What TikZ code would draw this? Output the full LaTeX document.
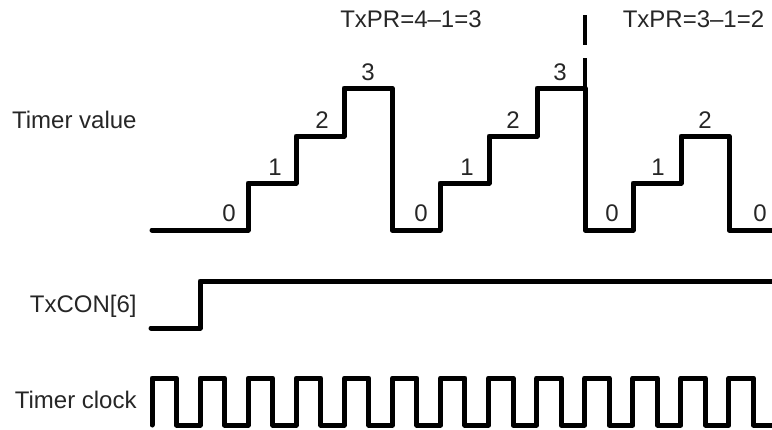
\documentclass[tikz,border=0pt]{standalone}
\usepackage{fontspec}
\setmainfont{Liberation Sans}
\begin{document}
\begin{tikzpicture}[x=0.5pt,y=-0.5pt,
  wave/.style={line width=2.5pt,line join=round,line cap=round},
  divider/.style={line width=2pt,dash pattern=on 15pt off 6.5pt},
  lbl/.style={font=\fontsize{12}{14}\selectfont,inner sep=0pt,text=black!85},
  num/.style={font=\fontsize{12}{14}\selectfont,inner sep=0pt,text=black!85}]
\useasboundingbox (0,0) rectangle (772,429);
% left labels
\node[lbl,anchor=base east] (tv) at (137,128) {Timer value};
\node[lbl,anchor=base east] (tc) at (137,312) {TxCON[6]};
\node[lbl,anchor=base east] (clk) at (137,408) {Timer clock};
% titles
\node[lbl] (pr1) at (411,19.5) {TxPR=4–1=3};
\node[lbl] (pr2) at (693.5,19.5) {TxPR=3–1=2};
% divider
\coordinate (dtop) at (585,15);
\coordinate (dbot) at (585,88);
\draw[divider] (dtop) -- (dbot);
% timer value waveform
\draw[wave] (152,230) -- (248,230) -- (248,183) -- (296,183) -- (296,136)
  -- (344,136) -- (344,88) -- (392,88) -- (392,230) -- (440,230) -- (440,183)
  -- (489,183) -- (489,136) -- (537,136) -- (537,88) -- (585,88) -- (585,230)
  -- (633,230) -- (633,183) -- (681,183) -- (681,136) -- (729,136) -- (729,230)
  -- (775,230);
% counter values
\node[num] (v0a) at (229,213) {0};
\node[num] (v1a) at (275,167) {1};
\node[num] (v2a) at (322,120) {2};
\node[num] (v3a) at (368,72) {3};
\node[num] (v0b) at (421,213) {0};
\node[num] (v1b) at (467,167) {1};
\node[num] (v2b) at (513,120) {2};
\node[num] (v3b) at (560,72) {3};
\node[num] (v0c) at (612,213) {0};
\node[num] (v1c) at (658,167) {1};
\node[num] (v2c) at (705,120) {2};
\node[num] (v0d) at (760,213) {0};
% TxCON[6]
\draw[wave] (151,328) -- (200,328) -- (200,281) -- (775,281);
% timer clock
\draw[wave] (152,425) foreach \k in {0,...,12} {
   -- ({152+48.08*\k},425) -- ({152+48.08*\k},378)
   -- ({176.5+48.08*\k},378) -- ({176.5+48.08*\k},425) } -- (775,425);
\end{tikzpicture}
\end{document}
